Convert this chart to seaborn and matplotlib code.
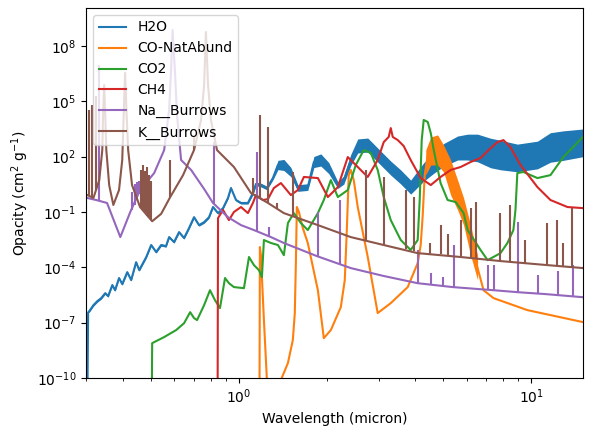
import numpy as np
import pandas as pd
import matplotlib
matplotlib.use("Agg")
import matplotlib.pyplot as plt
from matplotlib.lines import Line2D
from matplotlib.colors import to_hex
from matplotlib.ticker import NullLocator
import seaborn as sns

species = ["H2O", "CO-NatAbund", "CO2", "CH4", "Na__Burrows", "K__Burrows"]
colors = ["#1f77b4", "#ff7f0e", "#2ca02c", "#d62728", "#9467bd", "#8c564b"]

# ---- H2O (log10 opacity, with the half-width of the noisy band in decades) ----
h2o_wl = [0.303, 0.305, 0.308, 0.318, 0.328, 0.338, 0.349, 0.357, 0.369, 0.377, 0.389, 0.399, 0.415, 0.428,
          0.445, 0.456, 0.482, 0.501, 0.521, 0.542, 0.563, 0.577, 0.600, 0.624, 0.649, 0.675, 0.702, 0.730,
          0.760, 0.790, 0.815, 0.848, 0.882, 0.917, 0.939, 0.977, 1.016, 1.073, 1.116, 1.143, 1.189, 1.246,
          1.306, 1.359, 1.424, 1.504, 1.590, 1.719, 1.803, 1.905, 2.028, 2.178, 2.282, 2.411, 2.547, 2.756,
          2.980, 3.303, 3.573, 3.864, 4.281, 4.633, 5.006, 5.592, 6.049, 6.543, 7.246, 7.834, 8.945, 10.48,
          11.61, 12.85, 15.0]
h2o_logk = [-12, -6.45, -6.37, -6.05, -5.83, -5.67, -5.40, -5.56, -4.96, -5.24, -4.58, -4.91, -4.26, -4.69,
            -3.72, -4.15, -3.44, -2.79, -3.17, -2.79, -2.85, -2.36, -2.63, -2.09, -2.41, -1.87, -1.28, -1.71,
            -1.55, -1.28, -0.73, -1.06, -0.79, -0.24, 0.30, -0.35, -0.51, -0.51, 0.03, 0.52, 0.46, 0.30,
            0.84, 1.55, 1.55, 1.17, 0.30, 0.35, 1.71, 1.82, 1.38, 0.46, 0.73, 1.82, 2.58, 2.63,
            2.09, 1.38, 0.90, 0.35, 1.17, 1.65, 2.09, 2.47, 2.52, 2.47, 2.20, 2.09, 1.93, 2.09,
            2.50, 2.60, 2.75]
h2o_spread = [0, 0, 0.06, 0.06, 0.06, 0.06, 0.06, 0.06, 0.06, 0.06, 0.06, 0.06, 0.06, 0.06,
              0.06, 0.06, 0.06, 0.06, 0.06, 0.06, 0.06, 0.06, 0.06, 0.06, 0.06, 0.06, 0.06, 0.06,
              0.06, 0.06, 0.06, 0.06, 0.06, 0.06, 0.06, 0.06, 0.06, 0.06, 0.10, 0.10, 0.10, 0.10,
              0.10, 0.25, 0.30, 0.25, 0.18, 0.18, 0.30, 0.33, 0.30, 0.18, 0.22, 0.30, 0.38, 0.38,
              0.38, 0.38, 0.38, 0.38, 0.50, 0.55, 0.62, 0.65, 0.70, 0.75, 0.80, 0.80, 0.75, 0.75,
              0.80, 0.80, 0.75]

# ---- CO (natural abundance) ----
co_wl = [1.175, 1.179, 1.189, 1.198, 1.217, 1.246, 1.286, 1.38, 1.391, 1.470, 1.528, 1.552, 1.565, 1.577,
         1.603, 1.653, 1.719, 1.861, 1.950, 2.061, 2.229, 2.30, 2.337, 2.373, 2.411, 2.468, 2.547, 2.756,
         2.980, 3.303, 3.775, 4.083, 4.181, 4.248, 4.315, 4.419, 4.592, 4.816, 5.006, 5.293, 5.592, 5.861,
         6.192, 6.543, 6.857, 7.418, 9.683, 15.0]
co_logk = [-12, -2.90, -3.34, -4.53, -6.86, -10.11, -12, -12, -10.11, -9.19, -7.94, -6.48, -3.77, -0.73,
           -1.00, -1.87, -2.68, -5.24, -7.84, -7.40, -6.16, -4.69, -1.98, 1.00, 1.28, 0.73, -0.73, -3.44,
           -6.48, -5.94, -5.07, -3.77, -2.79, -1.17, 1.00, 2.09, 2.47, 2.36, 1.93, 0.90, -0.08, -1.17,
           -2.63, -4.04, -5.24, -5.67, -6.32, -6.97]
co_band_wl = [4.35, 4.525, 4.776, 5.006, 5.293, 5.592, 5.861, 6.192, 6.543]
co_band_hi = [2.36, 3.07, 3.18, 2.63, 1.82, 0.73, -0.24, -1.71, -3.34]
co_band_lo = [1.00, 1.55, 1.55, 1.17, -0.08, -0.89, -1.71, -3.34, -4.69]

# ---- CO2 ----
co2_wl = [0.503, 0.505, 0.555, 0.610, 0.649, 0.681, 0.702, 0.719, 0.760, 0.796, 0.828, 0.861, 0.896, 0.924,
          0.961, 1.040, 1.082, 1.125, 1.170, 1.198, 1.217, 1.286, 1.359, 1.424, 1.470, 1.540, 1.628, 1.719,
          1.861, 1.950, 2.061, 2.178, 2.355, 2.508, 2.671, 2.823, 2.980, 3.125, 3.303, 3.573, 3.864, 4.083,
          4.148, 4.214, 4.281, 4.419, 4.525, 4.633, 4.889, 5.167, 5.505, 5.861, 6.049, 6.698, 7.079, 7.834,
          8.274, 8.671, 8.815, 8.945, 9.383, 10.48, 11.61, 12.85, 15.0]
co2_logk = [-12, -8.11, -7.78, -7.40, -7.03, -6.43, -6.75, -6.86, -6.05, -5.24, -5.78, -6.21, -4.58, -4.86,
            -5.07, -5.13, -3.44, -3.88, -4.15, -4.53, -2.52, -2.68, -2.79, -3.34, -1.60, -1.06, -1.60, -1.98,
            -1.06, -0.35, 0.73, -0.19, 0.19, 1.55, 2.36, 2.20, 1.28, -0.19, -1.44, -2.52, -3.06, -2.52,
            -0.35, 2.90, 3.99, 3.88, 3.28, 2.36, 0.57, -0.35, -0.46, -1.06, -1.98, -3.06, -3.61, -3.23,
            -2.68, -1.98, -0.89, 1.11, 1.17, 0.84, 1.00, 1.98, 3.07]

# ---- CH4 ----
ch4_wl = [0.845, 0.848, 0.882, 0.924, 0.961, 1.016, 1.073, 1.116, 1.143, 1.207, 1.256, 1.316, 1.391, 1.504,
          1.590, 1.667, 1.861, 2.013, 2.178, 2.355, 2.547, 2.756, 2.980, 3.125, 3.250, 3.303, 3.355, 3.490,
          3.656, 3.864, 4.181, 4.525, 4.889, 5.293, 5.724, 6.192, 6.698, 7.134, 7.653, 8.020, 8.470, 9.166,
          10.48, 11.61, 13.27, 15.0]
ch4_logk = [-12, -1.33, -0.89, -1.44, -1.00, -0.73, -1.06, -0.51, -0.08, -0.35, -0.30, 0.30, 0.57, -0.08,
            0.19, 0.90, 0.84, -0.19, 0.35, 1.98, 1.44, 0.90, 1.82, 2.79, 3.07, 3.55, 3.07, 2.90,
            2.58, 1.82, 0.84, 0.46, 0.90, 1.28, 1.44, 1.71, 1.93, 2.36, 2.79, 2.90, 2.52, 1.55,
            0.35, -0.35, -0.73, -0.79]

# ---- Na (Burrows): continuum wings plus narrow lines ----
na_wl = [0.303, 0.325, 0.354, 0.393, 0.425, 0.459, 0.513, 0.555, 0.577, 0.586, 0.593, 0.605, 0.614, 0.634,
         0.686, 0.760, 0.815, 0.917, 1.016, 1.125, 1.286, 1.424, 1.846, 2.411, 3.125, 4.083, 5.373, 7.418,
         9.016, 11.16, 15.0]
na_logk = [-0.24, -0.35, -0.51, -2.36, -1.00, 0.19, 1.11, 2.36, 4.53, 6.70, 8.87, 6.43, 4.26, 1.82,
           1.28, 0.25, -0.51, -1.28, -1.71, -1.98, -2.36, -2.68, -3.39, -4.04, -4.47, -4.86, -5.07, -5.24,
           -5.35, -5.45, -5.62]
na_line_wl = [0.333, 0.430, 0.440, 0.447, 0.455, 0.822, 1.152, 1.266, 1.861, 2.212, 4.083, 4.53, 5.0,
              5.419, 7.1, 7.418, 9.016, 10.5, 12.3, 13.9]
na_line_base = [-0.4, -0.9, -0.6, -0.3, 0.0, -0.55, -2.1, -2.3, -3.4, -3.8, -4.86, -4.9, -5.0,
                -5.07, -5.2, -5.24, -5.35, -5.4, -5.5, -5.55]
na_line_peak = [6.97, 0.1, 0.5, 0.6, 0.7, 2.79, 2.25, -1.82, -1.00, -0.35, -3.06, -4.3, -4.5,
                -2.79, -3.9, -3.88, -1.55, -4.4, -4.2, -3.88]

# ---- K (Burrows) ----
k_wl = [0.303, 0.318, 0.333, 0.341, 0.3431, 0.346, 0.349, 0.352, 0.360, 0.372, 0.389, 0.399, 0.4036, 0.408,
        0.413, 0.418, 0.431, 0.459, 0.505, 0.542, 0.582, 0.644, 0.702, 0.742, 0.760, 0.771, 0.784, 0.802,
        0.841, 0.961, 1.099, 1.256, 1.424, 1.861, 2.411, 3.125, 4.083, 5.724, 7.834, 11.34, 15.0]
k_logk = [-0.08, -0.24, 0.73, 2.36, 4.26, 5.88, 4.26, 2.36, 0.46, -0.62, 0.19, 1.82, 4.26, 6.54,
          4.26, 2.36, 0.46, -0.73, -1.50, -1.10, -0.19, 1.00, 2.36, 3.99, 5.88, 8.76, 5.88, 3.99,
          2.36, 1.44, 0.03, -0.51, -1.06, -1.71, -2.36, -2.79, -3.23, -3.44, -3.66, -3.88, -4.04]
k_line_wl = [0.308, 0.315, 0.325, 0.463, 0.470, 0.478, 0.485, 0.493, 0.500, 0.582, 0.702, 1.116, 1.179,
             1.256, 1.348, 1.528, 2.713, 3.125, 3.715, 3.955, 4.5, 4.889, 5.2, 5.724, 6.192, 6.44, 7.834,
             8.47, 9.5, 11.34, 12.27, 12.85, 13.8]
k_line_base = [-0.15, -0.2, 0.2, -0.8, -0.9, -1.0, -1.2, -1.3, -1.45, -0.19, 2.36, 0.0, -0.2,
               -0.51, -0.8, -1.2, -2.5, -2.79, -3.0, -3.1, -3.25, -3.3, -3.4, -3.44, -3.5, -3.55, -3.66,
               -3.7, -3.75, -3.88, -3.9, -3.95, -4.0]
k_line_peak = [4.53, 4.80, 5.29, 1.3, 1.55, 1.2, 1.45, 1.0, 0.7, 1.82, 3.07, 0.84, 4.26,
               3.61, -0.51, 1.17, 1.28, 0.90, 0.19, -0.19, -2.7, -1.71, -2.2, -1.44, -0.79, -0.46, -1.06,
               -0.62, -2.5, -1.60, -1.44, -2.7, -0.79]

series = [("H2O", h2o_wl, h2o_logk), ("CO-NatAbund", co_wl, co_logk), ("CO2", co2_wl, co2_logk),
          ("CH4", ch4_wl, ch4_logk), ("Na__Burrows", na_wl, na_logk), ("K__Burrows", k_wl, k_logk)]

frames = []
for name, wl, lk in series:
    frames.append(pd.DataFrame({"Wavelength": wl, "Opacity": 10.0 ** np.asarray(lk, float), "species": name}))
df = pd.concat(frames, ignore_index=True)

fig, ax = plt.subplots(figsize=(5.92, 4.37), dpi=100)
fig.subplots_adjust(left=0.1453, right=0.9848, top=0.9817, bottom=0.135)

sns.lineplot(data=df, x="Wavelength", y="Opacity", hue="species", hue_order=species, palette=colors,
             estimator=None, sort=False, lw=1.5, legend=False, ax=ax)

zmap = {to_hex(c): 2.0 + 0.1 * i for i, c in enumerate(colors)}
for line in ax.lines:
    line.set_zorder(zmap.get(to_hex(line.get_color()), 2.0))

# noisy bands
h2o_c = np.asarray(h2o_logk, float)
h2o_s = np.asarray(h2o_spread, float)
ax.fill_between(h2o_wl, 10 ** (h2o_c - h2o_s), 10 ** (h2o_c + h2o_s), color=colors[0], lw=0, zorder=2.0)
ax.fill_between(co_band_wl, 10 ** np.asarray(co_band_lo), 10 ** np.asarray(co_band_hi),
                color=colors[1], lw=0, zorder=2.1)

# narrow atomic lines
ax.vlines(na_line_wl, 10 ** np.asarray(na_line_base), 10 ** np.asarray(na_line_peak),
          color=colors[4], lw=1.5, zorder=2.4)
ax.vlines(k_line_wl, 10 ** np.asarray(k_line_base), 10 ** np.asarray(k_line_peak),
          color=colors[5], lw=1.5, zorder=2.5)

ax.set_xscale("log")
ax.set_yscale("log")
ax.set_xlim(0.3, 15)
ax.set_ylim(1e-10, 1.15e10)
ax.set_yticks([1e-10, 1e-7, 1e-4, 1e-1, 1e2, 1e5, 1e8])
ax.yaxis.set_minor_locator(NullLocator())
ax.set_xlabel("Wavelength (micron)")
ax.set_ylabel(r"Opacity (cm$^2$ g$^{-1}$)")

handles = [Line2D([], [], color=c, lw=1.5) for c in colors]
ax.legend(handles, species, loc="upper left")

fig.savefig("out.png", dpi=100)
